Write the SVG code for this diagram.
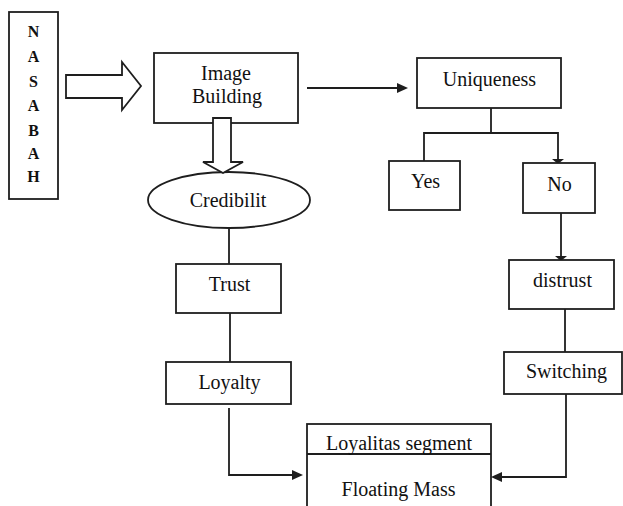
<svg xmlns="http://www.w3.org/2000/svg" width="623" height="506" viewBox="0 0 623 506">
<style>
.box{fill:#fff;stroke:#1e1e1e;stroke-width:1.8}
.ln{fill:none;stroke:#1e1e1e;stroke-width:1.8}
.hd{fill:#1e1e1e;stroke:none}
text{font-family:"Liberation Serif","DejaVu Serif",Times,serif;fill:#111;text-anchor:middle}
.t{font-size:20px}
.b{font-size:16px;font-weight:bold}
</style>
<rect width="623" height="506" fill="#fff"/>
<g id="connectors">
<polyline class="ln" points="307,88 398,88"/>
<polygon class="hd" points="397,83 408,88 397,93"/>
<polyline class="ln" points="491,95 491,133"/>
<polyline class="ln" points="424,161 424,133 558,133 558,160"/>
<polygon class="hd" points="552,159 564,159 558,164"/>
<polyline class="ln" points="561,200 561,258"/>
<polygon class="hd" points="555,256 567,256 561,261"/>
<polyline class="ln" points="565,297 565,352"/>
<polyline class="ln" points="229,220 229,264"/>
<polyline class="ln" points="230,313 230,362"/>
<polyline class="ln" points="229,408 229,475 293,475"/>
<polygon class="hd" points="292,470 303,475 292,480"/>
<polyline class="ln" points="566,394 566,477 500,477"/>
<polygon class="hd" points="502,472 491,477 502,482"/>
</g>
<g id="nasabah">
<rect class="box" x="9" y="12" width="49" height="187"/>
<text class="b" x="33.5" y="37">N</text>
<text class="b" x="33.5" y="62">A</text>
<text class="b" x="33.5" y="87">S</text>
<text class="b" x="33.5" y="111">A</text>
<text class="b" x="33.5" y="136">B</text>
<text class="b" x="33.5" y="159">A</text>
<text class="b" x="33.5" y="182">H</text>
</g>
<g id="arrow-nasabah-image">
<polygon class="box" points="66,75 122,75 122,62 141,86 122,110 122,98 66,98"/>
</g>
<g id="image-building">
<rect class="box" x="154" y="53" width="144" height="70"/>
<text class="t" x="226" y="80">Image</text>
<text class="t" x="227" y="103">Building</text>
</g>
<g id="credibilit">
<ellipse class="box" cx="229" cy="200" rx="81" ry="28"/>
<text class="t" x="228" y="207">Credibilit</text>
</g>
<g id="arrow-image-credibilit">
<polygon class="box" points="213,118 231,118 231,162 243,162 223,173 203,162 213,162"/>
</g>
<g id="trust">
<rect class="box" x="176" y="264" width="105" height="49"/>
<text class="t" x="229.5" y="291">Trust</text>
</g>
<g id="loyalty">
<rect class="box" x="166" y="362" width="125" height="42"/>
<text class="t" x="229.5" y="389">Loyalty</text>
</g>
<g id="uniqueness">
<rect class="box" x="417" y="58" width="144" height="50"/>
<text class="t" x="489.5" y="86">Uniqueness</text>
</g>
<g id="yes">
<rect class="box" x="389" y="161" width="71" height="49"/>
<text class="t" x="425.5" y="188">Yes</text>
</g>
<g id="no">
<rect class="box" x="523" y="163" width="72" height="50"/>
<text class="t" x="559.5" y="191">No</text>
</g>
<g id="distrust">
<rect class="box" x="509" y="260" width="105" height="49"/>
<text class="t" x="562.5" y="287">distrust</text>
</g>
<g id="switching">
<rect class="box" x="504" y="352" width="118" height="42"/>
<text class="t" x="566.5" y="378">Switching</text>
</g>
<g id="loyalitas-segment">
<rect class="box" x="307" y="424" width="184" height="90"/>
<line class="ln" x1="307" y1="454" x2="491" y2="454"/>
<text class="t" x="399" y="450">Loyalitas segment</text>
<text class="t" x="398.5" y="496">Floating Mass</text>
</g>
</svg>
